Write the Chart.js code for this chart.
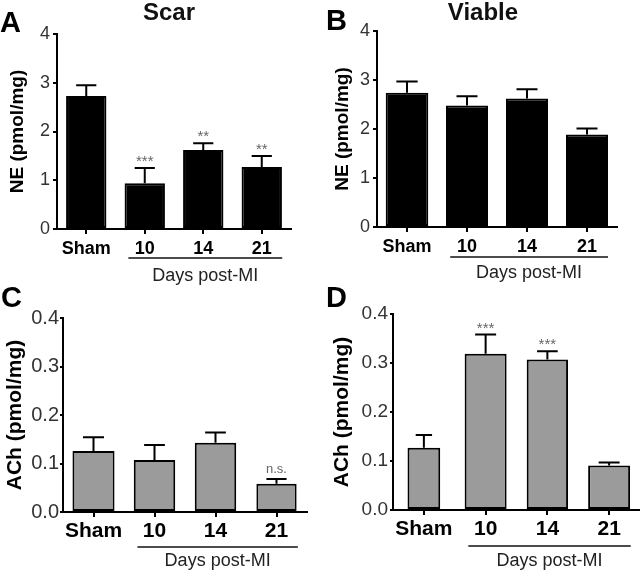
<!DOCTYPE html>
<html>
<head>
<meta charset="utf-8">
<script src="https://cdn.jsdelivr.net/npm/chart.js@4.4.0/dist/chart.umd.min.js"></script>
<style>
  body { margin: 0; background: #fff; width: 640px; height: 571px; position: relative; overflow: hidden; }
  canvas { position: absolute; }
</style>
</head>
<body>
<canvas id="cA" width="320" height="290" style="left:0;top:0"></canvas>
<canvas id="cB" width="320" height="290" style="left:320px;top:0"></canvas>
<canvas id="cC" width="320" height="296" style="left:0;top:275px"></canvas>
<canvas id="cD" width="320" height="296" style="left:320px;top:275px"></canvas>
<script>
// values (mean and upward SEM)
const categories = ["Sham", "10", "14", "21"];
const groupLabel = "Days post-MI";

const scarNE = [2.73, 0.94, 1.62, 1.27];
const scarNEsem = [0.22, 0.31, 0.14, 0.23];
const scarNEsig = ["", "***", "**", "**"];

const viableNE = [2.74, 2.48, 2.62, 1.89];
const viableNEsem = [0.23, 0.19, 0.19, 0.12];
const viableNEsig = ["", "", "", ""];

const scarACh = [0.126, 0.107, 0.143, 0.058];
const scarAChsem = [0.028, 0.031, 0.021, 0.010];
const scarAChsig = ["", "", "", "n.s."];

const viableACh = [0.127, 0.319, 0.307, 0.091];
const viableAChsem = [0.026, 0.039, 0.017, 0.006];
const viableAChsig = ["", "***", "***", ""];

const FONT = "'Liberation Sans', Arial, sans-serif";
Chart.defaults.font.family = FONT;

const panels = [
  { id: "cA", letter: "A", lx: 0, ly: 32, title: "Scar", tx: 169, yLabel: "NE (pmol/mg)",
    values: scarNE, sem: scarNEsem, sig: scarNEsig, max: 4, step: 1, dec: 0,
    fill: "#000", barPct: [0.69, 0.69, 0.69, 0.69],
    area: { l: 57, r: 291, t: 34, b: 229 }, h: 290,
    yTick: 18, yTickLen: 4, yTickPad: 3, yLab: 19, yLabPad: 6, xTick: 18, xTickPad: 4,
    lineGap: 29, textGap: 47 },
  { id: "cB", letter: "B", lx: 6, ly: 30, title: "Viable", tx: 163, yLabel: "NE (pmol/mg)",
    values: viableNE, sem: viableNEsem, sig: viableNEsig, max: 4, step: 1, dec: 0,
    fill: "#000", barPct: [0.71, 0.7, 0.7, 0.7],
    area: { l: 57, r: 297, t: 31, b: 227 }, h: 290,
    yTick: 18, yTickLen: 4, yTickPad: 3, yLab: 19, yLabPad: 11, xTick: 18, xTickPad: 4,
    lineGap: 30, textGap: 46 },
  { id: "cC", letter: "C", lx: 1, ly: 32, title: "", yLabel: "ACh (pmol/mg)",
    values: scarACh, sem: scarAChsem, sig: scarAChsig, max: 0.4, step: 0.1, dec: 1,
    fill: "#9b9b9b", barPct: [0.69, 0.68, 0.68, 0.66],
    area: { l: 63, r: 307, t: 43, b: 237 }, h: 296,
    yTick: 20, yTickLen: 3, yTickPad: 1, yLab: 21, yLabPad: 3, xTick: 21, xTickPad: 2,
    lineGap: 35, textGap: 49 },
  { id: "cD", letter: "D", lx: 6, ly: 32, title: "", yLabel: "ACh (pmol/mg)",
    values: viableACh, sem: viableAChsem, sig: viableAChsig, max: 0.4, step: 0.1, dec: 1,
    fill: "#9b9b9b", barPct: [0.53, 0.68, 0.67, 0.68],
    area: { l: 73, r: 320, t: 39, b: 235 }, h: 296,
    yTick: 19, yTickLen: 3, yTickPad: 2, yLab: 21, yLabPad: 10, xTick: 21, xTickPad: 2,
    lineGap: 36, textGap: 51 }
];

// error bars, significance marks, the "Days post-MI" bracket, titles and panel letters
const extras = {
  id: "extras",
  afterDatasetsDraw(chart, args, opts) {
    const p = opts.panel;
    const ctx = chart.ctx;
    const y = chart.scales.y;
    ctx.save();
    ctx.strokeStyle = "#000";
    ctx.lineWidth = 2;
    p.values.forEach((v, i) => {
      const bar = chart.getDatasetMeta(i).data[i];
      const top = y.getPixelForValue(v + p.sem[i]);
      const half = bar.width / 4;
      ctx.beginPath();
      ctx.moveTo(bar.x, bar.y);
      ctx.lineTo(bar.x, top);
      ctx.moveTo(bar.x - half, top);
      ctx.lineTo(bar.x + half, top);
      ctx.stroke();
      if (p.sig[i]) {
        const star = p.sig[i].includes("*");
        ctx.fillStyle = "#666";
        ctx.font = (star ? "15px " : "13px ") + FONT;
        ctx.textAlign = "center";
        ctx.textBaseline = "alphabetic";
        ctx.fillText(p.sig[i], bar.x, top - (star ? 2 : 6));
      }
    });
    ctx.restore();
  },
  afterDraw(chart, args, opts) {
    const p = opts.panel;
    const ctx = chart.ctx;
    const x = chart.scales.x;
    const cw = (x.right - x.left) / categories.length;
    const x1 = x.getPixelForValue(1) - 0.28 * cw;
    const x2 = x.getPixelForValue(3) + 0.35 * cw;
    const b = chart.chartArea.bottom;
    ctx.save();
    ctx.strokeStyle = "#111";
    ctx.lineWidth = 1.5;
    ctx.beginPath();
    ctx.moveTo(x1, b + p.lineGap);
    ctx.lineTo(x2, b + p.lineGap);
    ctx.stroke();
    ctx.fillStyle = "#222";
    ctx.font = "18px " + FONT;
    ctx.textAlign = "center";
    ctx.textBaseline = "middle";
    ctx.fillText(groupLabel, (x1 + x2) / 2, b + p.textGap);
    if (p.title) {
      ctx.fillStyle = "#111";
      ctx.font = "bold 24px " + FONT;
      ctx.fillText(p.title, p.tx, 13);
    }
    ctx.fillStyle = "#000";
    ctx.font = "bold 29px " + FONT;
    ctx.textAlign = "left";
    ctx.textBaseline = "alphabetic";
    ctx.fillText(p.letter, p.lx, p.ly);
    ctx.restore();
  }
};

panels.forEach((p) => {
  new Chart(document.getElementById(p.id), {
    type: "bar",
    data: {
      labels: categories,
      datasets: p.values.map((v, i) => ({
        data: p.values.map((w, j) => (j === i ? w : null)),
        backgroundColor: p.fill,
        borderColor: "#000",
        borderWidth: 2,
        borderSkipped: false,
        barPercentage: p.barPct[i],
        categoryPercentage: 1,
        grouped: false
      }))
    },
    options: {
      responsive: false,
      animation: false,
      layout: { padding: { left: 0, right: 320 - p.area.r, top: p.area.t, bottom: 0 } },
      plugins: { legend: { display: false }, tooltip: { enabled: false }, extras: { panel: p } },
      scales: {
        x: {
          ticks: { color: "#000", font: { size: p.xTick, weight: "bold" }, padding: p.xTickPad, maxRotation: 0, autoSkip: false },
          grid: { drawOnChartArea: false, offset: false, color: "#000", lineWidth: 2, tickLength: 5 },
          border: { color: "#000", width: 2 },
          afterFit: (s) => { s.height = p.h - p.area.b; }
        },
        y: {
          min: 0, max: p.max,
          ticks: { stepSize: p.step, color: "#333", font: { size: p.yTick }, padding: p.yTickPad, callback: (v) => v.toFixed(p.dec) },
          grid: { drawOnChartArea: false, color: "#000", lineWidth: 2, tickLength: p.yTickLen },
          border: { color: "#000", width: 2 },
          title: { display: true, text: p.yLabel, color: "#000", font: { size: p.yLab, weight: "bold" }, padding: { top: p.yLabPad, bottom: 0 } },
          afterFit: (s) => { s.width = p.area.l; }
        }
      }
    },
    plugins: [extras]
  });
});
</script>
</body>
</html>
